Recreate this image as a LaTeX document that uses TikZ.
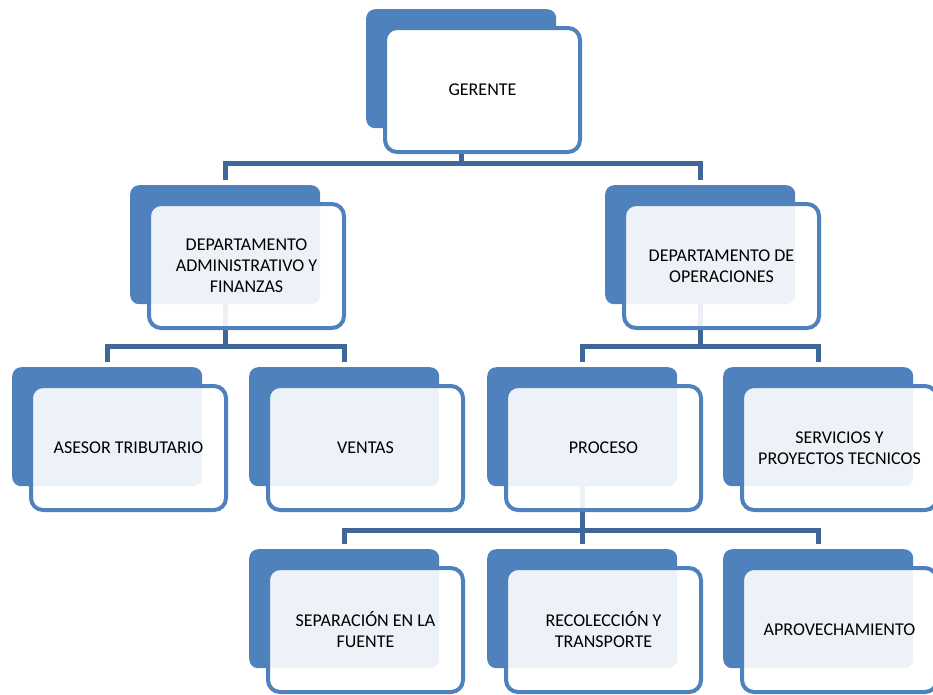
\documentclass[tikz,border=0pt]{standalone}
\usepackage{fontspec}
\setmainfont{Carlito}
\usetikzlibrary{positioning}
\definecolor{boxblue}{HTML}{4F81BD}
\definecolor{lineblue}{HTML}{3F6898}
\pgfdeclarelayer{backboxes}
\pgfdeclarelayer{links}
\pgfsetlayers{backboxes,links,main}

\begin{document}
\begin{tikzpicture}[x=1pt,y=-1pt,
   back/.style={draw=none,fill=boxblue,rounded corners=9pt,minimum width=190pt,
   minimum height=119pt,anchor=north west,inner sep=0pt},
   front/.style={draw=boxblue,line width=4pt,fill=white,fill opacity=#1,text opacity=1,
   rounded corners=12pt,minimum width=195pt,minimum height=124pt,align=center,
   font=\fontsize{18}{21}\selectfont,inner sep=0pt,anchor=north west},
   front/.default=0.9,
   link/.style={draw=lineblue,line width=5pt,shorten >=5pt}]

 \useasboundingbox (0,0) rectangle (933,694);

 \foreach \n/\x/\y/\t/\o in {ger/366/9/GERENTE/1,
   adm/130/185/{DEPARTAMENTO\\ADMINISTRATIVO Y\\FINANZAS}/0.9,
   ope/605/185/{DEPARTAMENTO DE\\OPERACIONES}/0.9,
   ase/12/367/{ASESOR TRIBUTARIO}/0.9,
   ven/249/367/VENTAS/0.9,
   pro/487/367/PROCESO/0.9,
   ser/723/367/{SERVICIOS Y\\PROYECTOS TECNICOS}/0.9,
   sep/249/549/{SEPARACIÓN EN LA\\FUENTE}/0.9,
   rec/487/549/{RECOLECCIÓN Y\\TRANSPORTE}/0.9,
   apr/723/549/APROVECHAMIENTO/0.9}
 {\begin{pgfonlayer}{backboxes}
   \node[back] (\n) at (\x,\y) {};
  \end{pgfonlayer}
  \node[front=\o] (\n-f) at ([shift={(17,17)}]\n.north west) {\t};}

 \begin{pgfonlayer}{links}
  \draw[link] (ger.south) -- ++(0,35) -| (adm.north);
  \draw[link] (ger.south) -- ++(0,35) -| (ope.north);
  \foreach \a/\b in {adm/ase,adm/ven,ope/pro,ope/ser}
   {\draw[link] (\a.south) -- ++(0,42) -| (\b.north);}
  \foreach \b in {sep,rec,apr}
   {\draw[link] (pro.south) -- ++(0,44) -| (\b.north);}
 \end{pgfonlayer}

\end{tikzpicture}
\end{document}
